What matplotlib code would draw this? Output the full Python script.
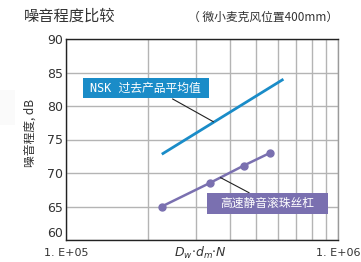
import matplotlib
matplotlib.use("Agg")
import matplotlib.pyplot as plt
from matplotlib.ticker import FixedLocator, NullFormatter, FixedFormatter
from matplotlib.patches import Rectangle

plt.rcParams['font.family'] = ['Noto Sans CJK SC', 'DejaVu Sans']

# Data
quiet_x = [2.25e5, 3.375e5, 4.5e5, 5.625e5]
quiet_y = [65.0, 68.5, 71.1, 73.0]
nsk_x = [2.25e5, 6.3e5]
nsk_y = [72.8, 84.0]
yticks = [60, 65, 70, 75, 80, 85, 90]
xticks = [1e5, 1e6]
xtick_labels = ["1. E+05", "1. E+06"]
title = "噪音程度比较"
subtitle = "（ 微小麦克风位置400mm）"
label_nsk = "NSK 过去产品平均值"
label_quiet = "高速静音滚珠丝杠"

W, H = 361, 262
fig = plt.figure(figsize=(W / 100, H / 100), dpi=100)
fig.patch.set_facecolor('white')

def fx(px):
    return px / W

def fy(py):
    return 1 - py / H

ax = fig.add_axes([fx(66), fy(240), fx(338) - fx(66), fy(39) - fy(240)])
ax.set_xscale('log')
ax.set_xlim(1e5, 1e6)
ax.set_ylim(60, 90)

ax.xaxis.set_major_locator(FixedLocator(xticks))
ax.xaxis.set_major_formatter(FixedFormatter(xtick_labels))
ax.xaxis.set_minor_locator(FixedLocator([i * 1e5 for i in range(2, 10)]))
ax.xaxis.set_minor_formatter(NullFormatter())
ax.set_yticks(yticks)
ax.set_yticklabels([str(v) for v in yticks])

ax.grid(True, which='both', axis='x', color='#b4b4b4', linewidth=1.0)
ax.grid(True, which='major', axis='y', color='#b4b4b4', linewidth=1.0)
ax.set_axisbelow(True)

ax.tick_params(axis='both', which='both', length=0)
ax.tick_params(axis='y', pad=2, labelsize=9, labelcolor='#333333')
ax.tick_params(axis='x', pad=6, labelsize=8, labelcolor='#333333')
for lab in ax.get_yticklabels() + ax.get_xticklabels():
    lab.set_family(['Liberation Sans Narrow', 'DejaVu Sans'])
ax.get_yticklabels()[0].set_verticalalignment('bottom')

ax.spines['left'].set_color('#222222')
ax.spines['bottom'].set_color('#222222')
ax.spines['top'].set_color('#222222')
ax.spines['right'].set_color('#9a9a9a')
for s in ax.spines.values():
    s.set_linewidth(1.0)

blue = '#1a8cc8'
purple = '#7a70b0'

ax.plot(nsk_x, nsk_y, color=blue, linewidth=2.0, solid_capstyle='butt', zorder=3)
ax.plot(quiet_x, quiet_y, color=purple, linewidth=1.8, marker='o', markersize=5, zorder=3)

# leader lines (in figure pixel coords)
def pix_line(x0, y0, x1, y1):
    fig.add_artist(plt.Line2D([fx(x0), fx(x1)], [fy(y0), fy(y1)], color='#222222',
                              linewidth=0.8, transform=fig.transFigure, zorder=5))

pix_line(172.7, 99, 213.3, 121.7)
pix_line(220.7, 177.7, 249, 192.7)

# label boxes
def box(x0, y0, x1, y1, color, text, fs, fam):
    fig.add_artist(Rectangle((fx(x0), fy(y1)), fx(x1) - fx(x0), fy(y0) - fy(y1),
                             facecolor=color, edgecolor='none', transform=fig.transFigure, zorder=6))
    fig.text((fx(x0) + fx(x1)) / 2, (fy(y0) + fy(y1)) / 2, text, color='white', fontsize=fs,
             ha='center', va='center', zorder=7, family=fam)

box(82.7, 78, 208.7, 98.3, blue, label_nsk, 8.5, ['DejaVu Sans Mono', 'Noto Sans CJK SC'])
box(207.3, 192.7, 327.7, 214, purple, label_quiet, 8.5, ['Noto Sans CJK SC', 'DejaVu Sans'])

# faint left patch
fig.add_artist(Rectangle((0, fy(125)), fx(15), fy(90) - fy(125), facecolor='#fafafa',
                         edgecolor='none', transform=fig.transFigure, zorder=0))

# titles
fig.text(fx(24), fy(16), title, fontsize=11, color='#333333', ha='left', va='center')
fig.text(fx(338), fy(17), subtitle, fontsize=8.5, color='#333333', ha='right', va='center')

# axis labels
fig.text(fx(30), fy(133), "噪音程度, dB", rotation=90, fontsize=8.5, color='#333333',
         ha='center', va='center')
fig.text(fx(200), fy(261), r"$D_w{\cdot}d_m{\cdot}N$", fontsize=9, color='#333333',
         ha='center', va='bottom')

fig.savefig('out.png', dpi=100, facecolor='white')
